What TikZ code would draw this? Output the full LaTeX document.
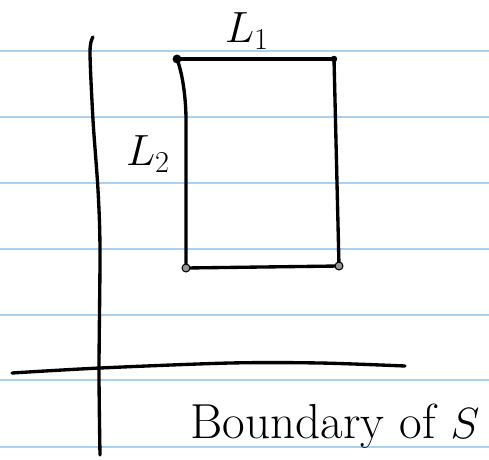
\documentclass[tikz,border=0pt]{standalone}
\usepackage{amsmath,amssymb}
\usetikzlibrary{positioning,calc}
\definecolor{RuleBlue}{RGB}{170,208,242}
\definecolor{InkGray}{RGB}{150,150,150}
\tikzset{
  rule/.style={draw=RuleBlue,line width=1.1pt},
  pen/.style={draw=black,line width=1.9pt,line cap=round,line join=round},
  dot/.style={circle,fill=black,inner sep=1.8pt},
  blob/.style={circle,draw=black,fill=InkGray,inner sep=1.6pt,line width=0.6pt},
  tag/.style={inner sep=1pt,font=\fontsize{27}{32}\selectfont},
  note/.style={inner sep=1pt,font=\fontsize{28}{34}\selectfont},
}

\begin{document}
\begin{tikzpicture}[x=0.02cm,y=-0.02cm]
\useasboundingbox (0,0) rectangle (489,459);
% ruled paper
\foreach \y in {51,117,183,249,315,380,447}
  \draw[rule] (0,\y) -- (489,\y);
% axes
\draw[pen] plot[smooth] coordinates {(93,37) (90,52) (93,120) (98,190) (100,250) (99,370) (100,455)};
\draw[pen] plot[smooth] coordinates {(12,373) (100,368) (230,363) (320,363) (405,366)};
% rectangle
\coordinate (tl) at (177,59);
\coordinate (tr) at (334,59);
\coordinate (bl) at (186,268);
\coordinate (br) at (339,266);
\draw[pen] (tl) -- (tr);
\draw[pen] (tr) -- (br);
\draw[pen] (bl) -- (br);
\draw[pen] (tl) .. controls (183,75) and (186,100) .. (186,120) -- (bl);
\node[dot] at (tl) {};
\node[dot,inner sep=1.3pt] at (tr) {};
\node[blob] at (bl) {};
\node[blob] at (br) {};
% labels
\node[tag] (lone) at (247,31) {$L_1$};
\node[tag] (ltwo) at (148,154) {$L_2$};
\node[note] (bdry) at (335,426) {Boundary of $S$};
\end{tikzpicture}
\end{document}
